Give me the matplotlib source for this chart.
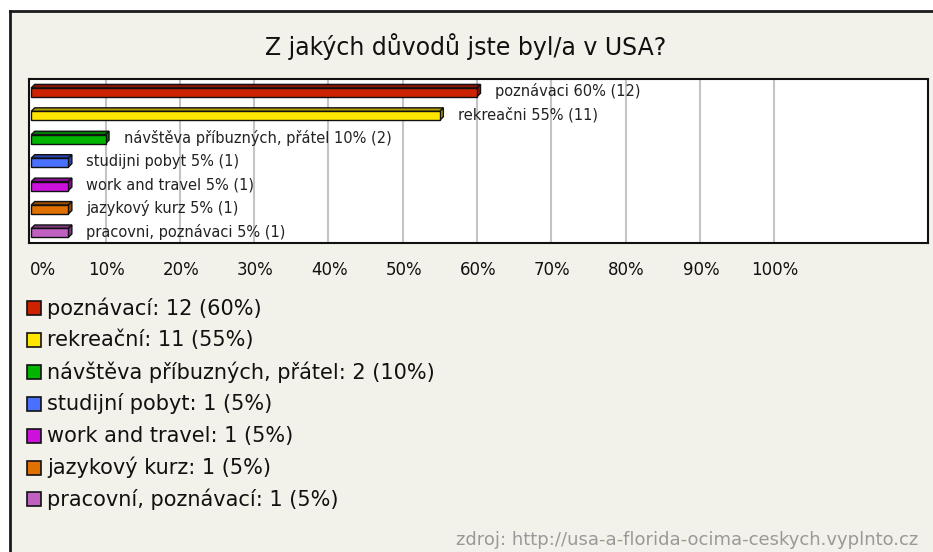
import matplotlib
matplotlib.use("Agg")
import matplotlib.pyplot as plt
from matplotlib.patches import Polygon, Rectangle
from matplotlib.lines import Line2D

# ---- data ----
title = "Z jakých důvodů jste byl/a v USA?"
categories = ["poznávací", "rekreační", "návštěva příbuzných, přátel", "studijní pobyt",
              "work and travel", "jazykový kurz", "pracovní, poznávací"]
bar_names = ["poznávaci", "rekreačni", "návštěva příbuzných, přátel", "studijni pobyt",
             "work and travel", "jazykový kurz", "pracovni, poznávaci"]
counts = [12, 11, 2, 1, 1, 1, 1]
percents = [60, 55, 10, 5, 5, 5, 5]
tick_values = [0, 10, 20, 30, 40, 50, 60, 70, 80, 90, 100]
tick_labels = ["0%", "10%", "20%", "30%", "40%", "50%", "60%", "70%", "80%", "90%", "100%"]
front_colors = ["#cc2200", "#ffe600", "#00b400", "#4a70ff", "#cc11dd", "#e07000", "#c060c0"]
top_colors = ["#8a1400", "#b0a000", "#007a00", "#2a44b0", "#8a0a96", "#9a4c00", "#7e3a7e"]
source = "zdroj: http://usa-a-florida-ocima-ceskych.vyplnto.cz"

W, H = 933, 552
fig = plt.figure(figsize=(W / 100, H / 100), dpi=100, facecolor="white")

def fx(px):
    return px / W

def fy(py):
    return 1 - py / H

# background panel with top/left dark border
fig.patches.append(Rectangle((fx(10), 0), 1 - fx(10), fy(11), transform=fig.transFigure,
                             facecolor="#f3f2ea", edgecolor="none", zorder=-5))
fig.add_artist(Line2D([fx(10), 1], [fy(11), fy(11)], transform=fig.transFigure,
                      color="#1a1a1a", lw=2, zorder=5))
fig.add_artist(Line2D([fx(10), fx(10)], [fy(11), 0], transform=fig.transFigure,
                      color="#1a1a1a", lw=2, zorder=5))

# title
fig.text(fx(466), fy(47), title, ha="center", va="center", fontsize=17,
         color="#111111", family="DejaVu Sans")

# axes
ax_l, ax_r, ax_t, ax_b = 29, 928, 79, 243
ax = fig.add_axes([fx(ax_l), fy(ax_b), (ax_r - ax_l) / W, (ax_b - ax_t) / H])
ax.set_zorder(1)
ax.set_facecolor("white")
xmin, xmax = -0.3, 120.7
ax.set_xlim(xmin, xmax)
n = len(categories)
ax.set_ylim(n - 0.5, -0.5)
for s in ax.spines.values():
    s.set_color("#111111")
    s.set_linewidth(1.5)
ax.set_xticks([])
ax.set_yticks([])

for v in tick_values[1:]:
    ax.axvline(v, color="#c4c4c4", lw=1.5, zorder=1)

px_per_x = (ax_r - ax_l) / (xmax - xmin)
px_per_y = (ax_b - ax_t) / n
dx = 3.5 / px_per_x
dy = 3.5 / px_per_y
bh = 0.38
shift = 0.07

ys = [i + shift for i in range(n)]
ax.barh(ys, percents, height=bh, left=0, color=front_colors, edgecolor="#111111",
        linewidth=1, zorder=3)
for y, p, tc in zip(ys, percents, top_colors):
    y0 = y - bh / 2
    top = Polygon([(0, y0), (p, y0), (p + dx, y0 - dy), (dx, y0 - dy)], closed=True,
                  facecolor=tc, edgecolor="#111111", lw=1, zorder=2.9)
    side = Polygon([(p, y0), (p + dx, y0 - dy), (p + dx, y0 + bh - dy), (p, y0 + bh)],
                   closed=True, facecolor=tc, edgecolor="#111111", lw=1, zorder=2.9)
    ax.add_patch(top)
    ax.add_patch(side)

for y, p, c, name in zip(ys, percents, counts, bar_names):
    ax.annotate(f"{name} {p}% ({c})", xy=(p, y - 0.05), xytext=(13, 0),
                textcoords="offset points", ha="left", va="center", fontsize=10.5,
                color="#222222", zorder=4, family="DejaVu Sans")

# x tick labels
for v, lab in zip(tick_values, tick_labels):
    xpix = ax_l + (v - xmin) * px_per_x
    if v == 0:
        fig.text(fx(xpix - 1), fy(270), lab, ha="left", va="center", fontsize=12,
                 color="#111111")
    else:
        fig.text(fx(xpix + 1), fy(270), lab, ha="center", va="center", fontsize=12,
                 color="#111111")

# legend
row0, rowstep = 308, 31.9
for i, (cat, c, p, col) in enumerate(zip(categories, counts, percents, front_colors)):
    yc = row0 + i * rowstep
    fig.patches.append(Rectangle((fx(27), fy(yc + 7)), 14 / W, 14 / H,
                                 transform=fig.transFigure, facecolor=col,
                                 edgecolor="#111111", lw=1.2, zorder=3))
    fig.text(fx(47), fy(yc), f"{cat}: {c} ({p}%)", ha="left", va="center",
             fontsize=15, color="#111111")

fig.text(fx(918), fy(540), source, ha="right", va="center", fontsize=13,
         color="#999999")

fig.savefig("out.png", dpi=100, facecolor=fig.get_facecolor())
